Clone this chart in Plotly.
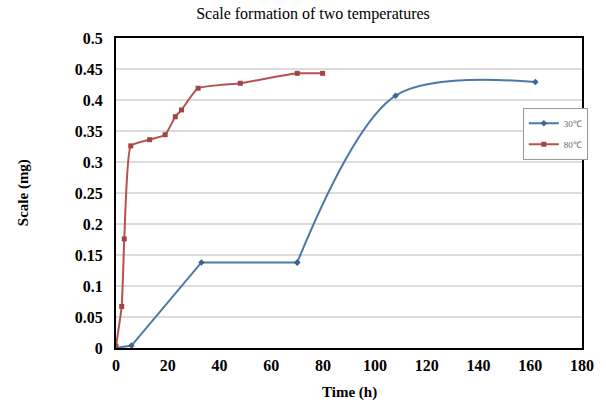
import plotly.graph_objects as go

# Data
blue_time = [0, 6, 33, 70, 108, 162]
blue_scale = [0.0, 0.004, 0.138, 0.138, 0.407, 0.429]
red_time = [0, 2.2, 3.2, 5.7, 13, 19, 22.9, 25.3, 31.7, 48, 70, 79.8]
red_scale = [0.003, 0.067, 0.176, 0.326, 0.336, 0.344, 0.373, 0.384, 0.419, 0.427, 0.443, 0.443]
series_names = ["30℃", "80℃"]

x_ticks = list(range(0, 181, 20))
y_ticks = [0, 0.05, 0.1, 0.15, 0.2, 0.25, 0.3, 0.35, 0.4, 0.45, 0.5]
y_labels = ["0", "0.05", "0.1", "0.15", "0.2", "0.25", "0.3", "0.35", "0.4", "0.45", "0.5"]

SERIF = "Liberation Serif, Times New Roman, serif"
BLUE, BLUE_M = "#4a78a8", "#3d6690"
RED, RED_M = "#b5524f", "#a04545"

fig = go.Figure()
# blue series: straight lower part, Excel-like smoothed upper part
fig.add_trace(go.Scatter(
    x=blue_time[:4], y=blue_scale[:4], name=series_names[0], legendgroup="b",
    mode="lines+markers", line=dict(color=BLUE, width=2),
    marker=dict(symbol="diamond", size=5, color=BLUE_M),
))
fig.add_trace(go.Scatter(
    x=blue_time[3:], y=blue_scale[3:], name=series_names[0], legendgroup="b",
    showlegend=False, mode="lines+markers",
    line=dict(color=BLUE, width=2, shape="spline", smoothing=0.9),
    marker=dict(symbol="diamond", size=5, color=BLUE_M),
))
fig.add_trace(go.Scatter(
    x=red_time, y=red_scale, name=series_names[1], mode="lines+markers",
    line=dict(color=RED, width=2, shape="spline", smoothing=0.4),
    marker=dict(symbol="square", size=5, color=RED_M),
))

tick_font = dict(family=SERIF, size=16, color="black")

fig.update_layout(
    width=606, height=414,
    margin=dict(l=116, r=18, t=38, b=66),
    paper_bgcolor="white", plot_bgcolor="white",
    font=dict(family=SERIF, color="black"),
    title=dict(text="Scale formation of two temperatures", x=313/606, xanchor="center",
               y=1-13/414, yanchor="middle", xref="container", yref="container",
               font=dict(family=SERIF, size=16, color="black")),
    showlegend=True,
    legend=dict(x=0.873, y=0.775, xanchor="left", yanchor="top",
                bgcolor="white", bordercolor="#999999", borderwidth=1,
                font=dict(family=SERIF, size=9, color="#666666"),
                itemwidth=30, tracegroupgap=2),
    xaxis=dict(range=[0, 180], tickvals=x_ticks,
               ticktext=["<b>%d</b>" % v for v in x_ticks],
               showgrid=False, zeroline=False,
               showline=True, linecolor="black", linewidth=2, mirror=True,
               ticks="", tickfont=tick_font, ticklabelstandoff=2),
    yaxis=dict(range=[0, 0.5], tickvals=y_ticks, ticktext=["<b>%s</b>" % s for s in y_labels],
               showgrid=True, gridcolor="#dcdcdc", gridwidth=2, zeroline=False,
               showline=True, linecolor="black", linewidth=2, mirror=True,
               ticks="", tickfont=tick_font, ticklabelstandoff=8),
    annotations=[
        dict(text="<b>Scale (mg)</b>", x=(22 - 116) / 472, y=0.5, xref="paper", yref="paper",
             xanchor="center", yanchor="middle",
             textangle=-90, showarrow=False, font=dict(family=SERIF, size=15, color="black")),
        dict(text="<b>Time (h)</b>", x=(352 - 116) / 472, y=-(392 - 348) / 310,
             xref="paper", yref="paper", xanchor="center", yanchor="middle",
             showarrow=False, font=dict(family=SERIF, size=15, color="black")),
    ],
)

fig.write_html("out.html")
